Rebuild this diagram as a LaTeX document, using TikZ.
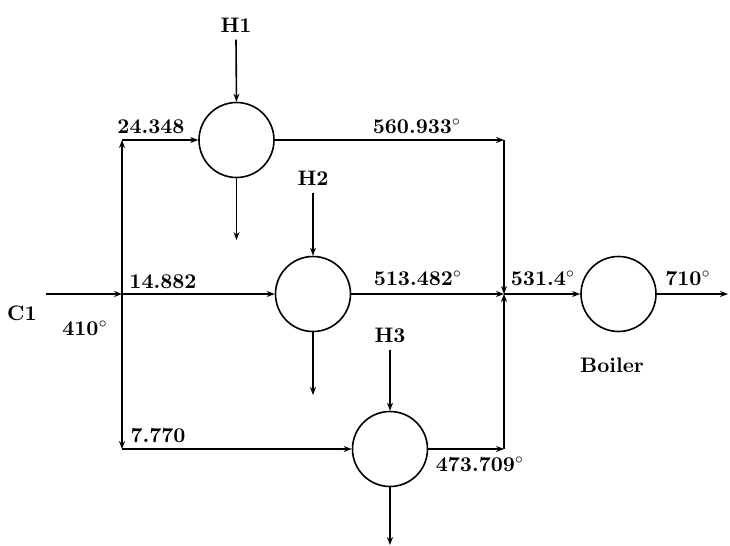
\documentclass[tikz,border=0pt]{standalone}
\usetikzlibrary{arrows.meta}
\begin{document}
\begin{tikzpicture}[x=0.5pt,y=-0.5pt,
  lbl/.style={inner sep=0pt,font=\fontsize{10.5}{12}\selectfont\bfseries},
  hlbl/.style={inner sep=3.5pt,font=\fontsize{10.5}{12}\selectfont\bfseries},
  unit/.style={circle,draw,line width=0.8pt,minimum size=37.5pt,inner sep=0pt},
  arr/.style={line width=0.8pt,-{Stealth[length=4pt,width=3pt]}},
  ln/.style={line width=0.8pt}]
\useasboundingbox (0,0) rectangle (730,546);
% units
\node[unit] (c1) at (236.5,140) {};
\node[unit] (c2) at (313,294) {};
\node[unit] (c3) at (390,449) {};
\node[unit] (boiler) at (618.5,294) {};
% junction points
\coordinate (in) at (46,294);
\coordinate (st) at (122,140);
\coordinate (sm) at (122,294);
\coordinate (sb) at (122,449);
\coordinate (mt) at (504,140);
\coordinate (mm) at (504,294);
\coordinate (mb) at (504,449);
\coordinate (out) at (728,294);
\coordinate (d1) at (236.5,240);
\coordinate (d2) at (313,395);
\coordinate (d3) at (390,545);
% heater labels
\node[hlbl] (h1) at (236,25) {H1};
\node[hlbl] (h2) at (313,178) {H2};
\node[hlbl] (h3) at (390,335) {H3};
% splitting
\draw[arr] (in) -- (sm);
\draw[arr] (sm) -- (st);
\draw[arr] (st) -- (c1.west);
\draw[arr] (sm) -- (c2.west);
\draw[arr] (sm) -- (sb);
\draw[arr] (sb) -- (c3.west);
% mixing
\draw[arr] (c1.east) -- (mt);
\draw[arr] (mt) -- (mm);
\draw[arr] (c2.east) -- (mm);
\draw[arr] (c3.east) -- (mb);
\draw[arr] (mb) -- (mm);
\draw[arr] (mm) -- (boiler.west);
\draw[arr] (boiler.east) -- (out);
% heaters in/out
\draw[arr] (h1.south) -- (c1.north);
\draw[arr] (h2.south) -- (c2.north);
\draw[arr] (h3.south) -- (c3.north);
\draw[arr] (c1.south) -- (d1);
\draw[arr] (c2.south) -- (d2);
\draw[arr] (c3.south) -- (d3);
% labels
\node[lbl] (l1) at (151,127) {24.348};
\node[lbl] (l2) at (417,126) {560.933$^\circ$};
\node[lbl] (l3) at (163,282) {14.882};
\node[lbl] (l4) at (418,278) {513.482$^\circ$};
\node[lbl] (l5) at (543,278) {531.4$^\circ$};
\node[lbl] (l6) at (688,278) {710$^\circ$};
\node[lbl] (l7) at (22,313) {C1};
\node[lbl] (l8) at (85,328) {410$^\circ$};
\node[lbl] (l9) at (158,436) {7.770};
\node[lbl] (l10) at (480,464) {473.709$^\circ$};
\node[lbl] (l11) at (612,365) {Boiler};
\end{tikzpicture}
\end{document}
